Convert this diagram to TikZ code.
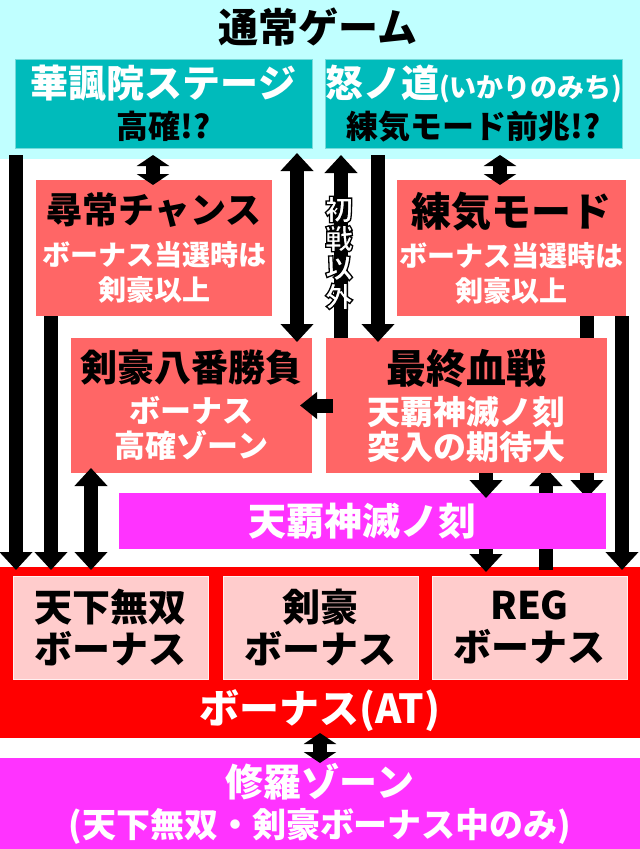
\documentclass[tikz,border=0pt]{standalone}
\usepackage{fontspec}
\setmainfont{Noto Sans CJK JP}[BoldFont={* Black}]
\usetikzlibrary{arrows.meta,calc,positioning}
\pgfdeclarelayer{bg}
\pgfdeclarelayer{mid}
\pgfsetlayers{bg,mid,main}
\definecolor{GameCyan}{RGB}{192,255,255}
\definecolor{StageTeal}{RGB}{0,187,187}
\definecolor{ZoneSalmon}{RGB}{255,102,102}
\definecolor{TenhaPink}{RGB}{255,51,255}
\definecolor{BonusRed}{RGB}{255,0,0}
\definecolor{BonusPale}{RGB}{255,204,204}
\newcommand{\jpsize}[2]{\fontsize{#1}{#2}\selectfont}
\newcommand{\outlined}[1]{\special{pdf:literal direct 2 Tr 1.3 w 0 0 0 RG}#1\special{pdf:literal direct 0 Tr 1 w}}

\begin{document}
\begin{tikzpicture}[x=1pt,y=-1pt,font=\bfseries,
  panel/.style={inner sep=0pt,outer sep=0pt,align=center,anchor=north west},
  flow/.style={line width=14pt,-{Triangle[width=32pt,length=18pt]}},
  twoway/.style={line width=14pt,{Triangle[width=32pt,length=18pt]}-{Triangle[width=32pt,length=18pt]}},
  nub/.style={line width=14pt,{Triangle[width=32pt,length=11pt]}-{Triangle[width=32pt,length=11pt]}}]
\useasboundingbox (0,0) rectangle (640,849);
% backgrounds
\begin{pgfonlayer}{bg}
\node[panel,fill=GameCyan,minimum width=640,minimum height=159] (normal) at (0,0) {};
\node[panel,fill=BonusRed,minimum width=640,minimum height=171] (bonus) at (0,567) {};
\end{pgfonlayer}
\node[panel,fill=TenhaPink,minimum width=640,minimum height=91,text=white,font=\bfseries\jpsize{34}{38}] (shura) at (0,758) {{\jpsize{38}{44}修羅ゾーン}\\[3pt](天下無双・剣豪ボーナス中のみ)};
\node[font=\bfseries\jpsize{40}{44}] (normaltitle) at (318,27) {通常ゲーム};
\node[font=\bfseries\jpsize{40}{44},text=white] (bonustitle) at (320,711) {ボーナス(AT)};
% boxes
\node[panel,fill=StageTeal,draw=StageTeal!55!white,minimum width=297,minimum height=89,font=\bfseries\jpsize{32}{40}] (stageL) at (15,59) {{\color{white}\jpsize{38}{44}華諷院ステージ}\\[1pt]高確!?};
\node[panel,fill=StageTeal,draw=StageTeal!55!white,minimum width=297,minimum height=89,font=\bfseries\jpsize{32}{40}] (stageR) at (325,59) {{\color{white}\jpsize{38}{44}怒ノ道{\jpsize{27}{44}(いかりのみち)}}\\[1pt]練気モード前兆!?};
\node[panel,fill=ZoneSalmon,minimum width=236,minimum height=136,text=white,font=\bfseries\jpsize{28}{35}] (jinjo) at (36,180) {{\color{black}\jpsize{36}{40}尋常チャンス}\\[7pt]ボーナス当選時は\\剣豪以上};
\node[panel,fill=ZoneSalmon,minimum width=229,minimum height=136,text=white,font=\bfseries\jpsize{28}{35}] (renki) at (397,180) {{\color{black}\jpsize{40}{40}練気モード}\\[5pt]ボーナス当選時は\\剣豪以上};
\node[panel,fill=ZoneSalmon,minimum width=241,minimum height=135,text=white,font=\bfseries\jpsize{31}{35}] (hachiban) at (71,338) {{\color{black}\jpsize{37}{40}剣豪八番勝負}\\[6pt]ボーナス\\高確ゾーン};
\node[panel,fill=ZoneSalmon,minimum width=281,minimum height=135,text=white,font=\bfseries\jpsize{33}{35}] (saishu) at (326,338) {{\color{black}\jpsize{40}{40}最終血戦}\\[6pt]天覇神滅ノ刻\\突入の期待大};
\node[panel,fill=TenhaPink,minimum width=487,minimum height=56,text=white,font=\bfseries\jpsize{38}{44}] (tenha) at (119,493) {天覇神滅ノ刻};
\foreach \px/\nm/\txt in {13/musou/天下無双,223/kengo/剣豪,432/reg/REG}{
  \node[panel,fill=BonusPale,draw=white!70!BonusPale,minimum width=195,minimum height=103,font=\bfseries\jpsize{38}{42}] (\nm) at (\px,576) {\txt\\ボーナス};}
% arrows passing behind boxes
\begin{pgfonlayer}{mid}
\draw[flow] ($(renki.south west)+(190,0)$) -- ($(tenha.north west)+(468,5)$);
\draw[flow] ($(bonus.north west)+(546,3)$) -- ($(saishu.south west)+(220,-5)$);
\end{pgfonlayer}
% arrows
\draw[flow] ($(normal.south west)+(16,-4)$) -- ($(bonus.north west)+(16,3)$);
\draw[flow] ($(jinjo.south west)+(15,0)$) -- ($(bonus.north west)+(51,3)$);
\draw[nub] ($(normal.south west)+(153,-4)$) -- ($(jinjo.north west)+(117,5)$);
\draw[twoway] ($(normal.south west)+(297,-6)$) -- ($(hachiban.north west)+(226,4)$);
\draw[flow] ($(saishu.north west)+(15,0)$) -- ($(normal.south west)+(341,-4)$);
\draw[flow] ($(normal.south west)+(378,-4)$) -- ($(saishu.north west)+(52,4)$);
\draw[nub] ($(normal.south west)+(500,-4)$) -- ($(renki.north west)+(103,5)$);
\draw[flow] ($(renki.south west)+(225,0)$) -- ($(bonus.north west)+(622,3)$);
\draw[flow] ($(saishu.south west)+(160,0)$) -- ($(tenha.north west)+(367,5)$);
\draw[flow] ($(tenha.south west)+(367,0)$) -- ($(bonus.north west)+(486,5)$);
\draw[twoway] ($(hachiban.south west)+(20,-5)$) -- ($(bonus.north west)+(91,3)$);
\draw[line width=14pt,-{Triangle[width=26pt,length=17pt]}] ($(saishu.west)+(7,0)$) -- ($(hachiban.east)+(-12,0)$);
\draw[nub] ($(bonus.south)+(0,-5)$) -- ($(shura.north)+(0,5)$);
\node[font=\bfseries\jpsize{28}{29},align=center,text=white,inner sep=0pt] (firstlbl) at (339,253) {\outlined{初}\\\outlined{戦}\\\outlined{以}\\\outlined{外}};
\end{tikzpicture}
\end{document}
